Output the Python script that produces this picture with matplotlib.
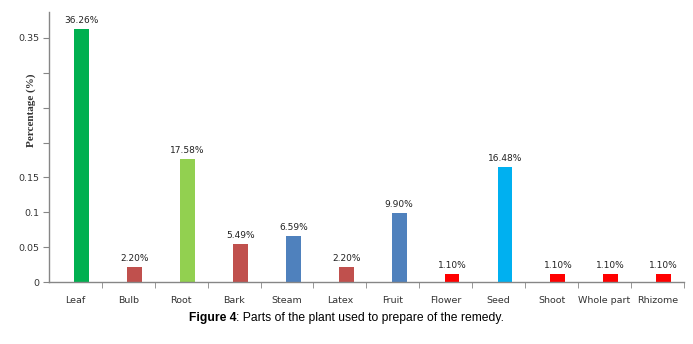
import numpy as np
import matplotlib
matplotlib.use('Agg')
import matplotlib.pyplot as plt
from matplotlib.ticker import FixedLocator

# parts of the plant and the share of remedies using each
parts = ['Leaf', 'Bulb', 'Root', 'Bark', 'Steam', 'Latex', 'Fruit',
         'Flower', 'Seed', 'Shoot', 'Whole part', 'Rhizome']
share = [0.3626, 0.0220, 0.1758, 0.0549, 0.0659, 0.0220, 0.0990,
         0.0110, 0.1648, 0.0110, 0.0110, 0.0110]
labels = ['36.26%', '2.20%', '17.58%', '5.49%', '6.59%', '2.20%', '9.90%',
          '1.10%', '16.48%', '1.10%', '1.10%', '1.10%']
colors = ['#00B050', '#C0504D', '#92D050', '#C0504D', '#4F81BD', '#C0504D',
          '#4F81BD', '#FF0000', '#00B0F0', '#FF0000', '#FF0000', '#FF0000']
yticks = [0, 0.05, 0.1, 0.15, 0.2, 0.25, 0.3, 0.35]
yticklabels = ['0', '0.05', '0.1', '0.15', '', '', '', '0.35']

fig = plt.figure(figsize=(6.93, 3.44), dpi=100)
ax = fig.add_axes([0.0707, 0.180, 0.916, 0.785])

x = np.arange(len(parts))
bars = ax.bar(x + 0.12, share, width=0.28, color=colors)
for b, t in zip(bars, labels):
    ax.text(b.get_x() + b.get_width() / 2, b.get_height() + 0.006, t,
            ha='center', va='bottom', fontsize=6.5, color='#222222')

ax.set_xlim(-0.5, len(parts) - 0.5)
ax.set_ylim(0, 0.387)
ax.set_xticks(x)
ax.set_xticklabels(parts, fontsize=6.8, color='#333333')
ax.xaxis.set_minor_locator(FixedLocator(x + 0.5))
ax.tick_params(axis='x', which='major', length=0, pad=10)
ax.tick_params(axis='x', which='minor', length=4, color='#868686')
ax.set_yticks(yticks)
ax.set_yticklabels(yticklabels, fontsize=6.8, color='#333333')
ax.tick_params(axis='y', length=4, color='#868686', pad=3)

for s in ['top', 'right']:
    ax.spines[s].set_visible(False)
for s in ['left', 'bottom']:
    ax.spines[s].set_color('#868686')
    ax.spines[s].set_linewidth(1)

fig.text(0.045, 0.68, 'Percentage (%)', rotation=90, ha='center', va='center',
         fontsize=8, family='Liberation Serif', fontweight='bold', color='#333333')

# caption: bold "Figure 4" followed by normal text, centred as one line
bold = fig.text(0, 0.075, 'Figure 4', ha='left', va='center', fontsize=8.7,
                family='Liberation Sans', fontweight='bold')
rest = fig.text(0, 0.075, ': Parts of the plant used to prepare of the remedy.',
                ha='left', va='center', fontsize=8.7, family='Liberation Sans')
fig.canvas.draw()
r = fig.canvas.get_renderer()
w1 = bold.get_window_extent(r).width / fig.bbox.width
w2 = rest.get_window_extent(r).width / fig.bbox.width
x0 = 0.5 - (w1 + w2) / 2
bold.set_x(x0)
rest.set_x(x0 + w1)

fig.savefig('out.png', dpi=100)
